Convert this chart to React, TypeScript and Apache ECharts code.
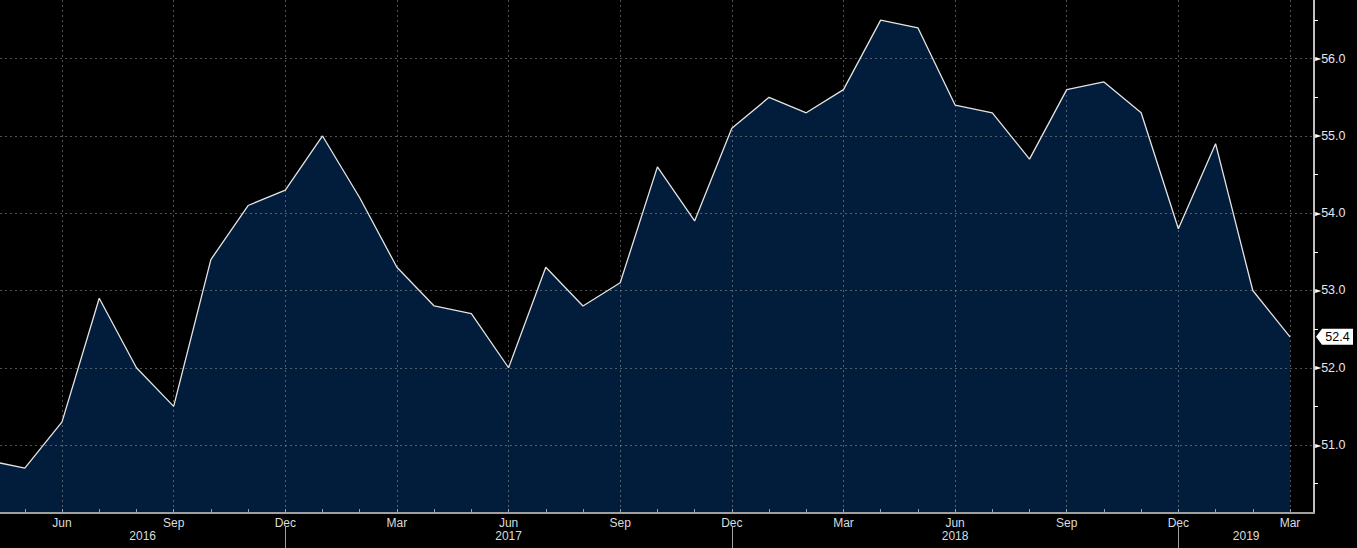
import React, { useEffect, useRef } from "react";
import * as echarts from "echarts";

const months = [
  "Apr 2016", "May 2016", "Jun 2016", "Jul 2016", "Aug 2016", "Sep 2016",
  "Oct 2016", "Nov 2016", "Dec 2016", "Jan 2017", "Feb 2017", "Mar 2017",
  "Apr 2017", "May 2017", "Jun 2017", "Jul 2017", "Aug 2017", "Sep 2017",
  "Oct 2017", "Nov 2017", "Dec 2017", "Jan 2018", "Feb 2018", "Mar 2018",
  "Apr 2018", "May 2018", "Jun 2018", "Jul 2018", "Aug 2018", "Sep 2018",
  "Oct 2018", "Nov 2018", "Dec 2018", "Jan 2019", "Feb 2019", "Mar 2019",
];

const values = [
  50.8, 50.7, 51.3, 52.9, 52.0, 51.5,
  53.4, 54.1, 54.3, 55.0, 54.2, 53.3,
  52.8, 52.7, 52.0, 53.3, 52.8, 53.1,
  54.6, 53.9, 55.1, 55.5, 55.3, 55.6,
  56.5, 56.4, 55.4, 55.3, 54.7, 55.6,
  55.7, 55.3, 53.8, 54.9, 53.0, 52.4,
];

const yMajorTicks = [51, 52, 53, 54, 55, 56];
const yMinorTicks = [50.5, 51.5, 52.5, 53.5, 54.5, 55.5, 56.5];

const X_MIN = 0.333;
const X_MAX = 35.645;
const Y_MIN = 50.12;
const Y_MAX = 56.76;

const FONT = "'Liberation Sans', Arial, sans-serif";
const GRID_COLOR = "rgba(150,150,150,0.55)";
const AXIS_GREY = "#a0a0a0";

export default function App() {
  const ref = useRef<HTMLDivElement>(null);

  useEffect(() => {
    document.body.style.margin = "0";
    document.body.style.background = "#000";
    const chart = echarts.init(ref.current!, null, { renderer: "svg" });

    const monthIdx = months.map((_, i) => i).filter((i) => i >= X_MIN && i <= X_MAX);
    const quarterIdx = monthIdx.filter((i) => /^(Mar|Jun|Sep|Dec)/.test(months[i]));
    const decIdx = monthIdx.filter((i) => months[i].startsWith("Dec"));
    const years = Array.from(new Set(months.map((m) => m.slice(4))));
    const yearCenters = years.map((y) => {
      const prevDec = months.indexOf("Dec " + (Number(y) - 1));
      const thisDec = months.indexOf("Dec " + y);
      const start = prevDec < 0 ? X_MIN : Math.max(X_MIN, prevDec);
      const end = thisDec < 0 ? X_MAX : Math.min(X_MAX, thisDec);
      return { year: y, center: (start + end) / 2 };
    });

    const data = values.map((v, i) => [i, v]);
    const last = values[values.length - 1];

    const option: echarts.EChartsOption = {
      animation: false,
      backgroundColor: "#000",
      grid: { left: 0, right: 43, top: 0, bottom: 35, containLabel: false },
      xAxis: [
        {
          type: "value",
          min: X_MIN,
          max: X_MAX,
          position: "bottom",
          z: 2,
          axisLine: { show: true, onZero: false, lineStyle: { color: AXIS_GREY, width: 2 } },
          axisTick: { show: false, customValues: quarterIdx },
          axisLabel: {
            customValues: quarterIdx,
            formatter: (v: number) => months[Math.round(v)].slice(0, 3),
            color: "#dcdcdc",
            fontSize: 12,
            fontFamily: FONT,
            margin: 4,
          },
          splitLine: { show: true, lineStyle: { color: GRID_COLOR, type: [2, 3], width: 1 } },
        },
        {
          type: "value",
          min: X_MIN,
          max: X_MAX,
          position: "bottom",
          z: 2,
          axisLine: { show: false, onZero: false },
          axisTick: { show: true, inside: true, length: 4, customValues: monthIdx, lineStyle: { color: AXIS_GREY, width: 1 } },
          axisLabel: { show: false },
          splitLine: { show: false },
        },
        {
          type: "value",
          min: X_MIN,
          max: X_MAX,
          position: "bottom",
          offset: 14,
          z: 2,
          axisLine: { show: false, onZero: false },
          axisTick: { show: true, length: 22, customValues: decIdx, lineStyle: { color: AXIS_GREY, width: 1 } },
          axisLabel: {
            customValues: yearCenters.map((y) => y.center),
            formatter: (v: number) => {
              let best = yearCenters[0];
              yearCenters.forEach((y) => {
                if (Math.abs(y.center - v) < Math.abs(best.center - v)) best = y;
              });
              return best.year;
            },
            color: "#dcdcdc",
            fontSize: 12,
            fontFamily: FONT,
            margin: 3,
          },
          splitLine: { show: false },
        },
      ],
      yAxis: [
        {
          type: "value",
          min: Y_MIN,
          max: Y_MAX,
          position: "right",
          z: 2,
          axisLine: { show: true, onZero: false, lineStyle: { color: "#ffffff", width: 1.5 } },
          axisTick: { show: false, customValues: yMajorTicks },
          axisLabel: {
            customValues: yMajorTicks,
            formatter: (v: number) => "{t|►}{v|" + v.toFixed(1) + "}",
            margin: 1,
            rich: {
              t: { color: "#ffffff", fontSize: 8, fontFamily: "DejaVu Sans" },
              v: { color: "#e6e6f0", fontSize: 12.5, fontFamily: FONT },
            },
          },
          splitLine: { show: true, lineStyle: { color: GRID_COLOR, type: [2, 3], width: 1 } },
        },
        {
          type: "value",
          min: Y_MIN,
          max: Y_MAX,
          position: "right",
          z: 2,
          axisLine: { show: false, onZero: false },
          axisTick: { show: true, length: 4, customValues: yMinorTicks, lineStyle: { color: "#ffffff", width: 1 } },
          axisLabel: { show: false },
          splitLine: { show: false },
        },
      ],
      series: [
        {
          type: "line",
          xAxisIndex: 0,
          yAxisIndex: 0,
          data,
          showSymbol: false,
          symbol: "none",
          z: 1,
          lineStyle: { width: 0 },
          areaStyle: { color: "#021d3b", opacity: 1, origin: "start" },
          silent: true,
        },
        {
          type: "line",
          xAxisIndex: 0,
          yAxisIndex: 0,
          data,
          showSymbol: false,
          symbol: "none",
          z: 3,
          lineStyle: { color: "#e4e4e4", width: 1.3 },
          silent: true,
          markPoint: {
            silent: true,
            symbol: "path://M0,8 L6,0 L37,0 L37,16 L6,16 Z",
            symbolSize: [37, 16],
            symbolOffset: [20.5, 0],
            itemStyle: { color: "#ffffff" },
            label: {
              show: true,
              position: "inside",
              offset: [3, 0],
              color: "#000000",
              fontSize: 12.5,
              fontFamily: FONT,
              formatter: () => last.toFixed(1),
            },
            data: [{ coord: [X_MAX, last], value: last }],
          },
        },
      ],
    };

    chart.setOption(option);
    return () => chart.dispose();
  }, []);

  return <div ref={ref} style={{ width: 1357, height: 548, background: "#000" }} />;
}
